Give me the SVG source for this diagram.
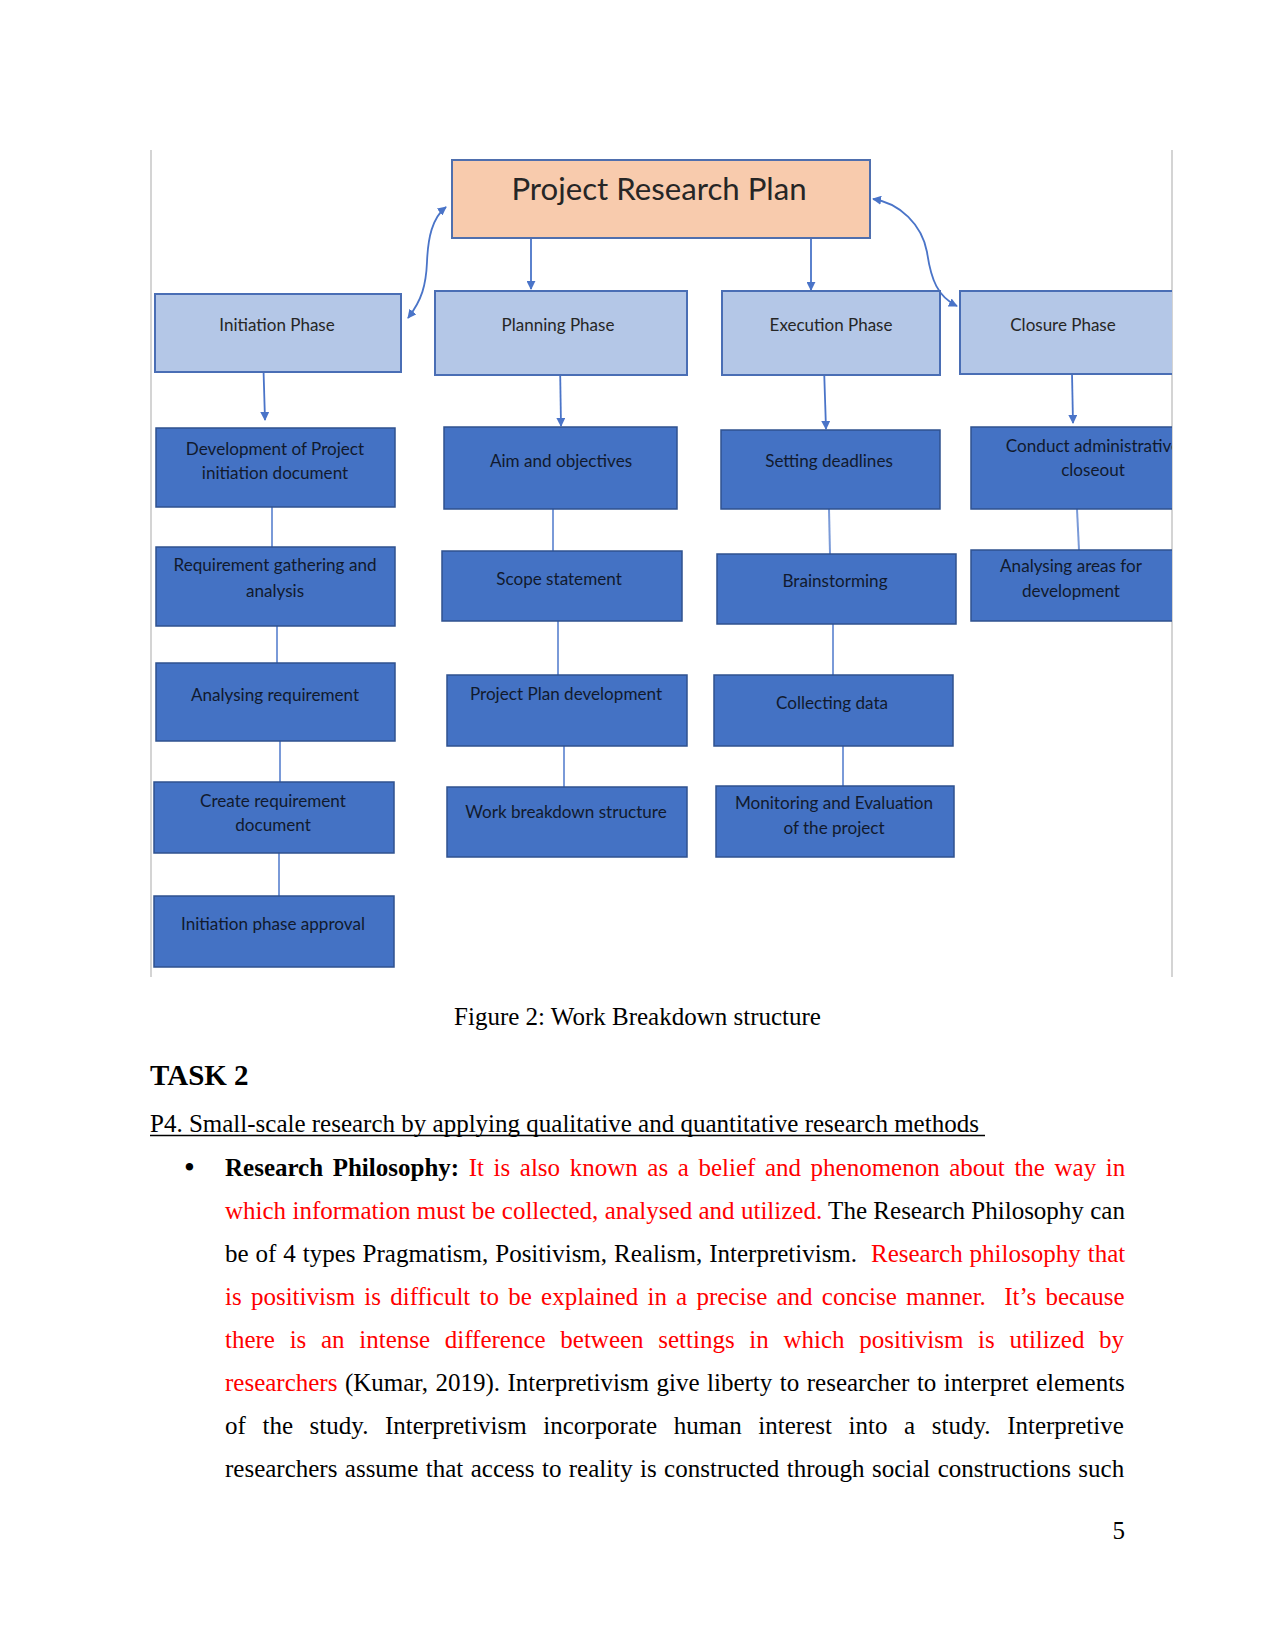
<svg xmlns="http://www.w3.org/2000/svg" width="1275" height="1650" viewBox="0 0 1275 1650">
<defs>
<style>
.frame{stroke:#d4d4d4;stroke-width:2;fill:none}
.prp{fill:#F8CBAD;stroke:#4F6FAE;stroke-width:2}
.phase{fill:#B4C7E7;stroke:#4A6EB5;stroke-width:2}
.child{fill:#4472C4;stroke:#2F528F;stroke-width:1.5}
.dt{font-family:Lato,"Open Sans","DejaVu Sans",sans-serif;text-anchor:middle}
.pt{font-size:17px;fill:#262626}
.ct{font-size:17.1px;fill:#111A2E}
.arrow{stroke:#4A74C8;stroke-width:1.8;fill:none}
.link{stroke:#7A9AD8;stroke-width:2;fill:none}
.body{font-family:"Liberation Serif","Times New Roman",serif;font-size:25px;fill:#000}
.red{fill:#FF0000}
.h2{font-size:29px;font-weight:bold}
.bul{font-size:31px}
</style>
<marker id="ah" viewBox="0 0 10 10" refX="9" refY="5" markerWidth="9" markerHeight="9" markerUnits="userSpaceOnUse" orient="auto-start-reverse">
<path d="M0,0 L10,5 L0,10 z" fill="#4A74C8"/>
</marker>
<clipPath id="clipfig"><rect x="150" y="140" width="1022" height="840"/></clipPath>
</defs>

<g id="frame">
<line class="frame" x1="151" y1="150" x2="151" y2="977"/>
<line class="frame" x1="1172" y1="150" x2="1172" y2="977"/>
</g>

<g clip-path="url(#clipfig)">
<g id="connectors">
<line class="arrow" x1="531" y1="238" x2="531" y2="289" marker-end="url(#ah)"/>
<line class="arrow" x1="811" y1="238" x2="811" y2="290" marker-end="url(#ah)"/>
<path class="arrow" d="M446,207 C432,218 428,238 427,262 C426,285 422,300 408,318" marker-start="url(#ah)" marker-end="url(#ah)"/>
<path class="arrow" d="M873,199 C900,203 922,225 927,252 C931,280 938,297 957,306" marker-start="url(#ah)" marker-end="url(#ah)"/>
<line class="arrow" x1="263" y1="353" x2="265" y2="420" marker-end="url(#ah)"/>
<line class="arrow" x1="560" y1="362" x2="561" y2="426" marker-end="url(#ah)"/>
<line class="arrow" x1="824" y1="367" x2="826" y2="429" marker-end="url(#ah)"/>
<line class="arrow" x1="1072" y1="373" x2="1073" y2="423" marker-end="url(#ah)"/>
<line class="link" x1="272" y1="507" x2="272" y2="547"/>
<line class="link" x1="277" y1="626" x2="277" y2="663"/>
<line class="link" x1="280" y1="741" x2="280" y2="782"/>
<line class="link" x1="279" y1="853" x2="279" y2="896"/>
<line class="link" x1="553" y1="509" x2="553" y2="551"/>
<line class="link" x1="558" y1="621" x2="558" y2="675"/>
<line class="link" x1="564" y1="746" x2="564" y2="787"/>
<line class="link" x1="829" y1="509" x2="830" y2="554"/>
<line class="link" x1="833" y1="624" x2="833" y2="675"/>
<line class="link" x1="843" y1="746" x2="843" y2="786"/>
<line class="link" x1="1077" y1="509" x2="1079" y2="550"/>
</g>

<g id="project-research-plan">
<rect class="prp" x="452" y="160" width="418" height="78"/>
<text class="dt" x="659" y="200" font-size="31.2" fill="#262626">Project Research Plan</text>
</g>

<g id="initiation-phase">
<rect class="phase" x="155" y="294" width="246" height="78"/>
<text class="dt pt" x="277" y="331">Initiation Phase</text>
</g>
<g id="planning-phase">
<rect class="phase" x="435" y="291" width="252" height="84"/>
<text class="dt pt" x="558" y="331">Planning Phase</text>
</g>
<g id="execution-phase">
<rect class="phase" x="722" y="291" width="218" height="84"/>
<text class="dt pt" x="831" y="331">Execution Phase</text>
</g>
<g id="closure-phase">
<rect class="phase" x="960" y="291" width="230" height="83"/>
<text class="dt pt" x="1063" y="331">Closure Phase</text>
</g>

<g id="dev-pid">
<rect class="child" x="156" y="428" width="239" height="79"/>
<text class="dt ct" x="275" y="455">Development of Project</text>
<text class="dt ct" x="275" y="479">initiation document</text>
</g>
<g id="req-gathering">
<rect class="child" x="156" y="547" width="239" height="79"/>
<text class="dt ct" x="275" y="571">Requirement gathering and</text>
<text class="dt ct" x="275" y="597">analysis</text>
</g>
<g id="analysing-req">
<rect class="child" x="156" y="663" width="239" height="78"/>
<text class="dt ct" x="275" y="701">Analysing requirement</text>
</g>
<g id="create-req-doc">
<rect class="child" x="154" y="782" width="240" height="71"/>
<text class="dt ct" x="273" y="807">Create requirement</text>
<text class="dt ct" x="273" y="831">document</text>
</g>
<g id="init-approval">
<rect class="child" x="154" y="896" width="240" height="71"/>
<text class="dt ct" x="273" y="930">Initiation phase approval</text>
</g>

<g id="aim-objectives">
<rect class="child" x="444" y="427" width="233" height="82"/>
<text class="dt ct" x="561" y="467">Aim and objectives</text>
</g>
<g id="scope-statement">
<rect class="child" x="442" y="551" width="240" height="70"/>
<text class="dt ct" x="559" y="585">Scope statement</text>
</g>
<g id="project-plan-dev">
<rect class="child" x="447" y="675" width="240" height="71"/>
<text class="dt ct" x="566" y="700">Project Plan development</text>
</g>
<g id="wbs">
<rect class="child" x="447" y="787" width="240" height="70"/>
<text class="dt ct" x="566" y="818">Work breakdown structure</text>
</g>

<g id="setting-deadlines">
<rect class="child" x="721" y="430" width="219" height="79"/>
<text class="dt ct" x="829" y="467">Setting deadlines</text>
</g>
<g id="brainstorming">
<rect class="child" x="717" y="554" width="239" height="70"/>
<text class="dt ct" x="835" y="587">Brainstorming</text>
</g>
<g id="collecting-data">
<rect class="child" x="714" y="675" width="239" height="71"/>
<text class="dt ct" x="832" y="709">Collecting data</text>
</g>
<g id="monitoring">
<rect class="child" x="716" y="786" width="238" height="71"/>
<text class="dt ct" x="834" y="809">Monitoring and Evaluation</text>
<text class="dt ct" x="834" y="834">of the project</text>
</g>

<g id="admin-closeout">
<rect class="child" x="971" y="427" width="230" height="82"/>
<text class="dt ct" x="1093" y="452">Conduct administrative</text>
<text class="dt ct" x="1093" y="476">closeout</text>
</g>
<g id="areas-development">
<rect class="child" x="971" y="550" width="230" height="71"/>
<text class="dt ct" x="1071" y="572">Analysing areas for</text>
<text class="dt ct" x="1071" y="597">development</text>
</g>
</g>

<g id="page-text">
<text class="body" x="637.5" y="1025" text-anchor="middle">Figure 2: Work Breakdown structure</text>
<text class="body h2" x="150" y="1085">TASK 2</text>
<text class="body" x="150" y="1132">P4. Small-scale research by applying qualitative and quantitative research methods</text>
<line x1="150" y1="1135.5" x2="985" y2="1135.5" stroke="#000" stroke-width="1.6"/>
<text class="body bul" x="184" y="1178">•</text>
<text class="body" x="225" y="1176" word-spacing="3.33"><tspan font-weight="bold">Research Philosophy:</tspan><tspan class="red"> It is also known as a belief and phenomenon about the way in</tspan></text>
<text class="body" x="225" y="1219" word-spacing="0.12"><tspan class="red">which information must be collected, analysed and utilized.</tspan> The Research Philosophy can</text>
<text class="body" x="225" y="1262" word-spacing="0.72" xml:space="preserve">be of 4 types Pragmatism, Positivism, Realism, Interpretivism.  <tspan class="red">Research philosophy that</tspan></text>
<text class="body red" x="225" y="1305" word-spacing="2.98" xml:space="preserve">is positivism is difficult to be explained in a precise and concise manner.  It’s because</text>
<text class="body red" x="225" y="1348" word-spacing="8.43">there is an intense difference between settings in which positivism is utilized by</text>
<text class="body" x="225" y="1391" word-spacing="1.23"><tspan class="red">researchers</tspan> (Kumar, 2019). Interpretivism give liberty to researcher to interpret elements</text>
<text class="body" x="225" y="1434" word-spacing="10.36">of the study. Interpretivism incorporate human interest into a study. Interpretive</text>
<text class="body" x="225" y="1477" word-spacing="1.15">researchers assume that access to reality is constructed through social constructions such</text>
<text class="body" x="1125" y="1539" text-anchor="end">5</text>
</g>
</svg>
